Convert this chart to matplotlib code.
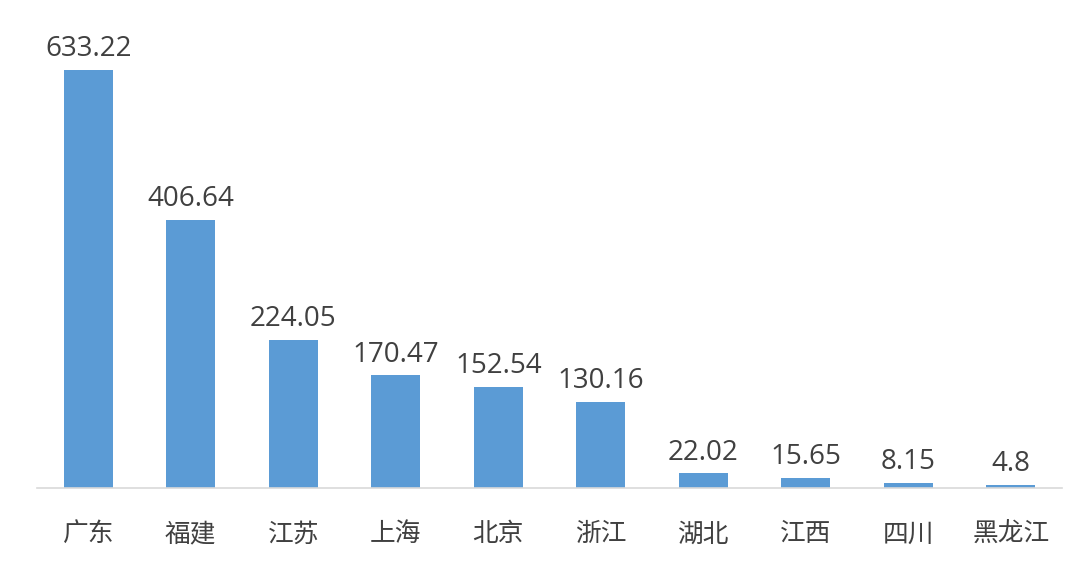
import matplotlib
matplotlib.use('Agg')
import matplotlib.pyplot as plt
import numpy as np

plt.rcParams['font.family'] = ['Noto Sans CJK SC', 'DejaVu Sans']

provinces = ['广东', '福建', '江苏', '上海', '北京', '浙江', '湖北', '江西', '四川', '黑龙江']
values = [633.22, 406.64, 224.05, 170.47, 152.54, 130.16, 22.02, 15.65, 8.15, 4.8]
value_labels = ['633.22', '406.64', '224.05', '170.47', '152.54', '130.16', '22.02', '15.65', '8.15', '4.8']

fig = plt.figure(figsize=(10.8, 5.78), dpi=100)
ax = fig.add_axes([37/1080, 1-488/578, 1025/1080, 468/578])

x = np.arange(len(provinces))
bars = ax.bar(x, values, width=0.48, color='#5B9BD5')

for xi, v, lab in zip(x, values, value_labels):
    ax.annotate(lab, (xi, v), textcoords='offset points', xytext=(0, 5),
                ha='center', va='bottom', fontsize=20, color='#404040',
                family=['Open Sans', 'DejaVu Sans'])

ax.set_xlim(-0.5, len(provinces) - 0.5)
ax.set_ylim(0, 633.22 * 468 / 418)
ax.set_xticks(x)
ax.set_xticklabels(provinces, fontsize=18.5, color='#404040')
ax.tick_params(axis='x', length=0, pad=24)
ax.set_yticks([])
for s in ['top', 'right', 'left']:
    ax.spines[s].set_visible(False)
ax.spines['bottom'].set_color('#d9d9d9')
ax.spines['bottom'].set_linewidth(1.2)

fig.savefig('out.png', dpi=100)
